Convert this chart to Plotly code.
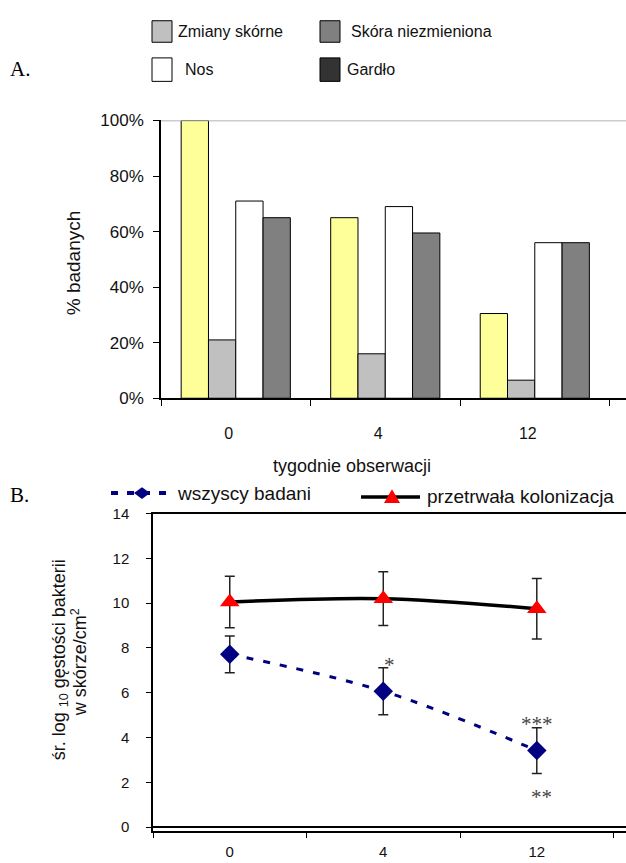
import plotly.graph_objects as go

W, H = 626, 863

# ---------- data ----------
weeks = ["0", "4", "12"]
series_names = ["Zmiany skórne", "Skóra niezmieniona", "Nos", "Gardło"]
bar_zmiany = [1.00, 0.65, 0.305]
bar_skora = [0.21, 0.16, 0.065]
bar_nos = [0.71, 0.69, 0.56]
bar_gardlo = [0.65, 0.595, 0.56]
bar_colors = ["#FFFF99", "#C0C0C0", "#FFFFFF", "#808080"]
legend_colors = ["#C0C0C0", "#808080", "#FFFFFF", "#333333"]

all_mean = [7.72, 6.07, 3.42]
all_err = [0.82, 1.05, 1.02]
persist_mean = [10.05, 10.2, 9.75]
persist_err = [1.15, 1.2, 1.35]

# significance marks: (category index, y value, text, x shift)
sig_marks = [(1, 7.25, "*", 6), (2, 4.6, "***", 0), (2, 1.35, "**", 5)]


def px(x):
    return x / W


def py(y):
    return 1 - y / H


fig = go.Figure()

for vals, name, col in zip([bar_zmiany, bar_skora, bar_nos, bar_gardlo], series_names, bar_colors):
    fig.add_trace(go.Bar(x=weeks, y=vals, name=name, marker=dict(color=col, line=dict(color="#000", width=1)),
                         xaxis="x", yaxis="y", showlegend=False))

fig.add_trace(go.Scatter(x=weeks, y=persist_mean, mode="lines+markers", name="przetrwała kolonizacja",
                         line=dict(color="#000", width=3.5, shape="spline"),
                         marker=dict(symbol="triangle-up", size=17, color="#FF0000"),
                         error_y=dict(type="data", array=persist_err, color="#222", thickness=1.5, width=5),
                         xaxis="x2", yaxis="y2", showlegend=False))
fig.add_trace(go.Scatter(x=weeks, y=all_mean, mode="lines+markers", name="wszyscy badani",
                         line=dict(color="#000080", width=3, dash="7px,10px", shape="spline"),
                         marker=dict(symbol="diamond", size=15, color="#000080"),
                         error_y=dict(type="data", array=all_err, color="#222", thickness=1.5, width=5),
                         xaxis="x2", yaxis="y2", showlegend=False))

font = "Liberation Sans, Arial, sans-serif"
serif = "Liberation Serif, Times New Roman, serif"

shapes = []
annotations = []

# Panel A legend (manual)
leg_items = [
    (152, 12, 34, 176, 23, series_names[0], legend_colors[0]),
    (320, 12, 34, 349, 23, series_names[1], legend_colors[1]),
    (152, 50, 74, 183, 62, series_names[2], legend_colors[2]),
    (320, 50, 74, 345, 62, series_names[3], legend_colors[3]),
]
for x0, y0, y1, tx, ty, name, col in leg_items:
    shapes.append(dict(type="rect", xref="paper", yref="paper", x0=px(x0), x1=px(x0 + 20), y0=py(y1), y1=py(y0),
                       fillcolor=col, line=dict(color="#000", width=1)))
    annotations.append(dict(text=name, xref="paper", yref="paper", x=px(tx), y=py(ty), xanchor="left",
                            yanchor="middle", showarrow=False, font=dict(size=16, color="#111", family=font)))

# 100% gridline
shapes.append(dict(type="line", xref="paper", yref="y", x0=px(161), x1=1, y0=1, y1=1,
                   line=dict(color="#999", width=1.5)))

annotations += [
    dict(text="A.", xref="paper", yref="paper", x=px(8), y=py(61), xanchor="left", yanchor="middle",
         showarrow=False, font=dict(size=21, color="#000", family=serif)),
    dict(text="B.", xref="paper", yref="paper", x=px(8), y=py(497), xanchor="left", yanchor="middle",
         showarrow=False, font=dict(size=21, color="#000", family=serif)),
    dict(text="% badanych", xref="paper", yref="paper", x=px(73), y=py(260), textangle=-90,
         xanchor="center", yanchor="middle",
         showarrow=False, font=dict(size=19, color="#111", family=font)),
    dict(text="tygodnie obserwacji", xref="paper", yref="paper", x=px(352), y=py(467),
         xanchor="center", yanchor="middle",
         showarrow=False, font=dict(size=18, color="#111", family=font)),
    dict(text="śr. log <sub>10</sub> gęstości bakterii", xref="paper", yref="paper",
         x=px(60), y=py(666), textangle=-90, showarrow=False, xanchor="center", yanchor="middle",
         font=dict(size=18, color="#111", family=font)),
    dict(text="w skórze/cm<sup>2</sup>", xref="paper", yref="paper",
         x=px(79), y=py(668), textangle=-90, showarrow=False, xanchor="center", yanchor="middle",
         font=dict(size=18, color="#111", family=font)),
]
for xi, yv, txt, sh in sig_marks:
    annotations.append(dict(text=txt, x=xi, y=yv, xref="x2", yref="y2", xshift=sh, showarrow=False,
                            xanchor="center", yanchor="middle",
                            font=dict(size=21, color="#444", family=serif)))

# Panel B legend (manual)
ly = 495
shapes.append(dict(type="line", xref="paper", yref="paper", x0=px(111), x1=px(167), y0=py(ly), y1=py(ly),
                   line=dict(color="#000080", width=4, dash="7px,9px")))
cx, r = 142, 8
shapes.append(dict(type="path", xref="paper", yref="paper",
                   path=f"M {px(cx - r)},{py(ly)} L {px(cx)},{py(ly - 6)} L {px(cx + r)},{py(ly)} L {px(cx)},{py(ly + 6)} Z",
                   fillcolor="#000080", line=dict(color="#000080", width=0)))
annotations.append(dict(text="wszyscy badani", xref="paper", yref="paper", x=px(175), y=py(ly), xanchor="left",
                        yanchor="middle", showarrow=False, font=dict(size=19, color="#111", family=font)))
ly2 = 499
shapes.append(dict(type="line", xref="paper", yref="paper", x0=px(361), x1=px(420), y0=py(ly2), y1=py(ly2),
                   line=dict(color="#000", width=3.5)))
tx, tr = 392, 8
shapes.append(dict(type="path", xref="paper", yref="paper",
                   path=f"M {px(tx - tr)},{py(ly2 + 6)} L {px(tx)},{py(ly2 - 8)} L {px(tx + tr)},{py(ly2 + 6)} Z",
                   fillcolor="#FF0000", line=dict(color="#FF0000", width=0)))
annotations.append(dict(text="przetrwała kolonizacja", xref="paper", yref="paper", x=px(425), y=py(ly2 - 1),
                        xanchor="left", yanchor="middle", showarrow=False,
                        font=dict(size=19, color="#111", family=font)))

fig.update_layout(
    width=W, height=H, margin=dict(l=0, r=0, t=0, b=0),
    paper_bgcolor="#fff", plot_bgcolor="rgba(0,0,0,0)",
    barmode="group", bargap=0.27, bargroupgap=0,
    font=dict(family=font, color="#111"),
    xaxis=dict(domain=[px(161), 1], anchor="y", type="category", range=[-0.5, 2.61],
               tickson="boundaries", ticks="outside", ticklen=6, tickcolor="#000", tickwidth=1,
               showline=True, linecolor="#000", linewidth=1.5, showgrid=False,
               ticklabelstandoff=20, ticklabelshift=-7, tickfont=dict(size=16)),
    yaxis=dict(domain=[py(398), py(114)], anchor="x", range=[0, 1], dtick=0.2, tickformat=".0%",
               ticks="outside", ticklen=6, tickcolor="#000", showline=True, linecolor="#000", linewidth=1.5,
               showgrid=False, zeroline=False, tickfont=dict(size=17), ticklabelstandoff=6),
    xaxis2=dict(domain=[px(153), 1], anchor="y2", type="category", range=[-0.5, 2.581],
                tickson="boundaries", ticks="outside", ticklen=6, tickcolor="#000",
                showline=True, linecolor="#000", linewidth=1.5, mirror=True, showgrid=False,
                tickfont=dict(size=15), ticklabelstandoff=7),
    yaxis2=dict(domain=[py(840), py(516)], anchor="x2", range=[-0.15, 14], dtick=2,
                ticks="outside", ticklen=5, tickcolor="#000", showline=True, linecolor="#000", linewidth=1.5,
                showgrid=False, zeroline=True, zerolinecolor="#000", zerolinewidth=1.5,
                tickfont=dict(size=15), ticklabelstandoff=14),
    shapes=shapes, annotations=annotations,
)

fig.write_html("out.html")
